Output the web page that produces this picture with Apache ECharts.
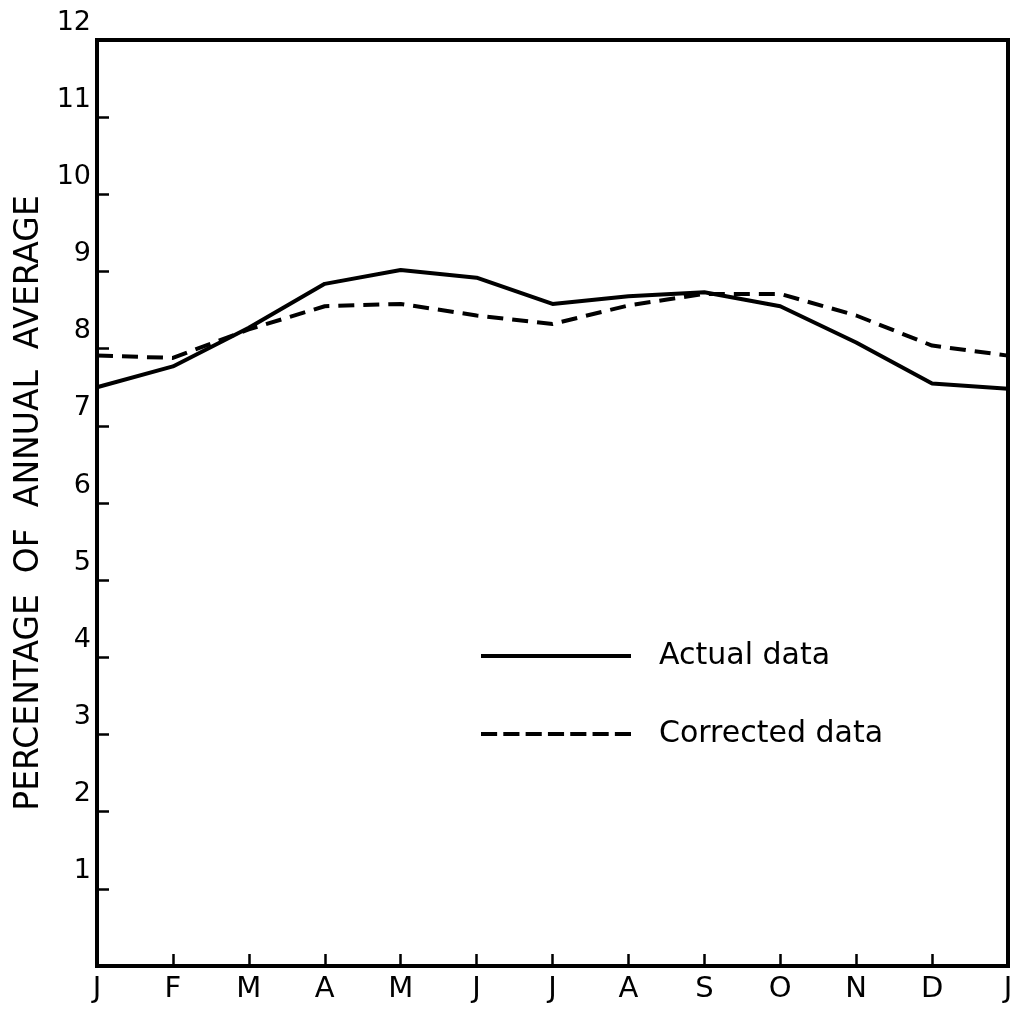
<!DOCTYPE html>
<html>
<head>
<meta charset="utf-8">
<script src="https://cdn.jsdelivr.net/npm/echarts@6/dist/echarts.min.js"></script>
<style>
  html, body { margin: 0; padding: 0; background: #fff; }
  #chart { width: 1027px; height: 1009px; }
</style>
</head>
<body>
<div id="chart"></div>
<script>
// months J..J (start and end of year)
const months = ['J', 'F', 'M', 'A', 'M', 'J', 'J', 'A', 'S', 'O', 'N', 'D', 'J'];
const actualData = [7.5, 7.77, 8.27, 8.84, 9.02, 8.92, 8.58, 8.68, 8.73, 8.55, 8.08, 7.55, 7.48];
const correctedData = [7.91, 7.88, 8.25, 8.55, 8.58, 8.43, 8.32, 8.56, 8.71, 8.71, 8.43, 8.04, 7.91];

const chart = echarts.init(document.getElementById('chart'), null, { renderer: 'canvas' });

const ink = '#000';
const font = 'DejaVu Sans';

// legend keys: a plain bar and a row of seven dashes
const dashIcon = 'path://' + [0, 1, 2, 3, 4, 5, 6]
  .map(k => 'M' + (k * 23.5) + ',0h17v4h-17z').join(' ');

chart.setOption({
  animation: false,
  backgroundColor: '#fff',
  grid: {
    left: 97, right: 19, top: 40, bottom: 43,
    show: true, borderColor: ink, borderWidth: 4, backgroundColor: 'transparent'
  },
  legend: {
    orient: 'vertical',
    left: 476, top: 636,
    itemWidth: 150, itemHeight: 4,
    itemGap: 48,
    symbolKeepAspect: false,
    itemStyle: { color: ink, borderWidth: 0 },
    data: [
      { name: 'Actual data', icon: 'rect' },
      { name: 'Corrected data', icon: dashIcon }
    ],
    textStyle: { fontFamily: font, fontSize: 30, color: ink, padding: [0, 0, 0, 23] }
  },
  xAxis: {
    type: 'category',
    data: months,
    boundaryGap: false,
    axisLine: { lineStyle: { color: ink, width: 4 } },
    axisTick: { inside: true, length: 12, lineStyle: { color: ink, width: 2.5 } },
    axisLabel: { color: ink, fontFamily: font, fontSize: 29, margin: 9 },
    splitLine: { show: false }
  },
  yAxis: {
    type: 'value',
    min: 0, max: 12, interval: 1,
    name: 'PERCENTAGE  OF  ANNUAL  AVERAGE',
    nameLocation: 'middle',
    nameGap: 43,
    nameTextStyle: { color: ink, fontFamily: font, fontSize: 33 },
    axisLine: { show: true, lineStyle: { color: ink, width: 4 } },
    axisTick: { show: true, inside: true, length: 12, lineStyle: { color: ink, width: 2.5 } },
    axisLabel: {
      color: ink, fontFamily: font, fontSize: 27, margin: 6,
      verticalAlign: 'bottom', padding: [0, 0, 4, 0],
      formatter: v => v === 0 ? '' : String(v)
    },
    splitLine: { show: false }
  },
  series: [
    {
      name: 'Actual data',
      type: 'line',
      data: actualData,
      symbol: 'none',
      lineStyle: { color: ink, width: 4 },
      itemStyle: { color: ink }
    },
    {
      name: 'Corrected data',
      type: 'line',
      data: correctedData,
      symbol: 'none',
      lineStyle: { color: ink, width: 4, type: [16, 9] },
      itemStyle: { color: ink }
    }
  ]
});

window.addEventListener('resize', () => chart.resize());
</script>
</body>
</html>
